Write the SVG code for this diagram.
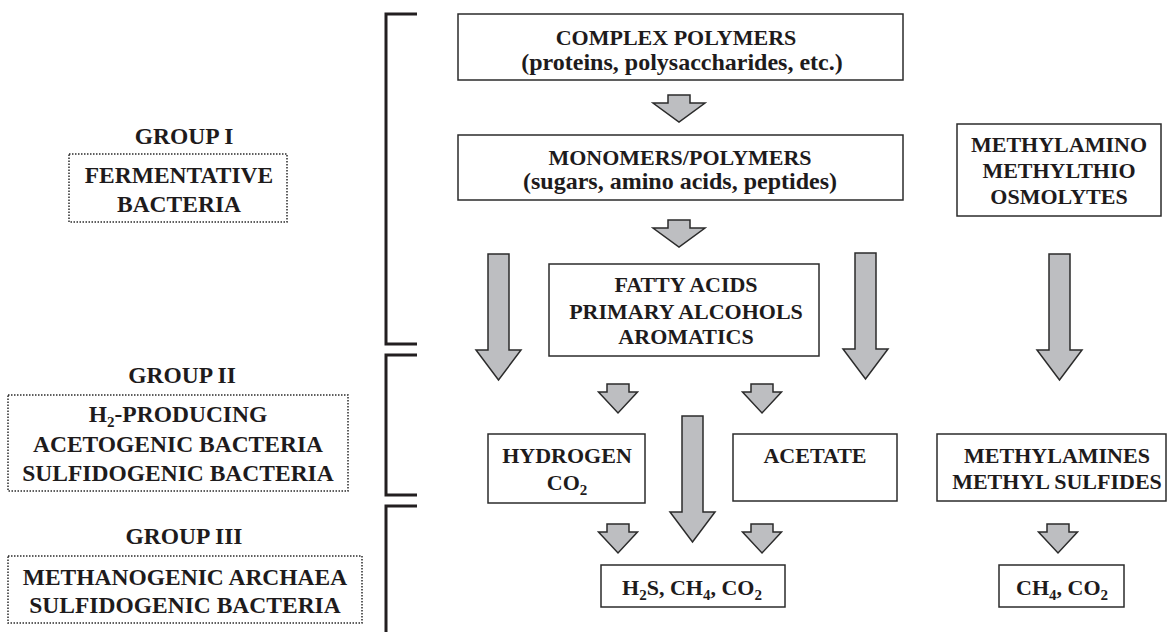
<svg xmlns="http://www.w3.org/2000/svg" width="1168" height="632" viewBox="0 0 1168 632">
<style>
text{font-family:"Liberation Serif","Times New Roman",serif;font-weight:bold;fill:#1e1b1c;text-anchor:middle}
.lbl{font-size:23.5px}
.cap{font-size:22px}
.low{font-size:24px}
.sub{font-size:15px}
.box{fill:#fff;stroke:#2b2b2b;stroke-width:1.5}
.dot{fill:#fff;stroke:#2b2b2b;stroke-width:1.5;stroke-dasharray:1.5 1.5}
.br{fill:none;stroke:#231f20;stroke-width:3}
.arr{fill:#bdbec1;stroke:#2b2b2b;stroke-width:1.5;stroke-linejoin:miter}
</style>
<defs>
<polygon id="sa" points="-11,0 11,0 11,8 26,8 0,27 -26,8 -11,8"/>
<polygon id="sb" points="-11,0 11,0 11,8 19.5,8 0,29 -19.5,8 -11,8"/>
<polygon id="ba" points="-10.5,0 10.5,0 10.5,96 22.5,96 0,126 -22.5,96 -10.5,96"/>
</defs>

<g id="brackets">
<path class="br" d="M417,14 H386 V344 H417"/>
<path class="br" d="M417,355 H386 V495 H417"/>
<path class="br" d="M417,506 H386 V632"/>
</g>

<g id="group1">
<text class="lbl" x="184" y="144">GROUP I</text>
<rect class="dot" x="69" y="154" width="218" height="68"/>
<text class="lbl" x="179" y="183">FERMENTATIVE</text>
<text class="lbl" x="179" y="212">BACTERIA</text>
</g>

<g id="group2">
<text class="lbl" x="182" y="383">GROUP II</text>
<rect class="dot" x="8" y="395" width="340" height="96"/>
<text class="lbl" x="178" y="422">H<tspan class="sub" dy="5">2</tspan><tspan dy="-5">-PRODUCING</tspan></text>
<text class="lbl" x="178" y="452">ACETOGENIC BACTERIA</text>
<text class="lbl" x="178" y="481">SULFIDOGENIC BACTERIA</text>
</g>

<g id="group3">
<text class="lbl" x="184" y="544">GROUP III</text>
<rect class="dot" x="8" y="556" width="354" height="67"/>
<text class="lbl" x="185" y="585">METHANOGENIC ARCHAEA</text>
<text class="lbl" x="185" y="613">SULFIDOGENIC BACTERIA</text>
</g>

<g id="complex">
<rect class="box" x="458" y="14" width="445" height="66"/>
<text class="cap" x="676" y="45">COMPLEX POLYMERS</text>
<text class="low" x="682" y="70">(proteins, polysaccharides, etc.)</text>
</g>

<g id="monomers">
<rect class="box" x="458" y="135" width="445" height="65"/>
<text class="cap" x="680" y="165">MONOMERS/POLYMERS</text>
<text class="low" x="680" y="189">(sugars, amino acids, peptides)</text>
</g>

<g id="methylamino">
<rect class="box" x="957" y="124" width="204" height="92"/>
<text class="cap" x="1059" y="152">METHYLAMINO</text>
<text class="cap" x="1059" y="178">METHYLTHIO</text>
<text class="cap" x="1059" y="204">OSMOLYTES</text>
</g>

<g id="fatty">
<rect class="box" x="549" y="264" width="270" height="92"/>
<text class="cap" x="686" y="292">FATTY ACIDS</text>
<text class="cap" x="686" y="319">PRIMARY ALCOHOLS</text>
<text class="cap" x="686" y="344">AROMATICS</text>
</g>

<g id="hydrogen">
<rect class="box" x="488" y="434" width="157" height="69"/>
<text class="cap" x="567" y="463">HYDROGEN</text>
<text class="cap" x="567" y="490">CO<tspan class="sub" dy="5">2</tspan></text>
</g>

<g id="acetate">
<rect class="box" x="733" y="434" width="164" height="67"/>
<text class="cap" x="815" y="463">ACETATE</text>
</g>

<g id="methylamines">
<rect class="box" x="937" y="434" width="229" height="67"/>
<text class="cap" x="1057" y="463">METHYLAMINES</text>
<text class="cap" x="1057" y="489">METHYL SULFIDES</text>
</g>

<g id="h2s">
<rect class="box" x="601" y="565" width="184" height="42"/>
<text class="cap" x="692" y="595">H<tspan class="sub" dy="5">2</tspan><tspan dy="-5">S, CH</tspan><tspan class="sub" dy="5">4</tspan><tspan dy="-5">, CO</tspan><tspan class="sub" dy="5">2</tspan></text>
</g>

<g id="ch4">
<rect class="box" x="999" y="565" width="125" height="42"/>
<text class="cap" x="1062" y="595">CH<tspan class="sub" dy="5">4</tspan><tspan dy="-5">, CO</tspan><tspan class="sub" dy="5">2</tspan></text>
</g>

<g id="connectors">
<use href="#sa" class="arr" x="679" y="95"/>
<use href="#sa" class="arr" x="679" y="220"/>
<use href="#ba" class="arr" x="498.5" y="254"/>
<use href="#ba" class="arr" x="865.5" y="253"/>
<use href="#ba" class="arr" x="1059.5" y="254"/>
<use href="#sb" class="arr" x="618" y="384"/>
<use href="#sb" class="arr" x="762" y="384"/>
<use href="#ba" class="arr" x="692.5" y="416"/>
<use href="#sb" class="arr" x="618" y="524"/>
<use href="#sb" class="arr" x="762" y="524"/>
<use href="#sb" class="arr" x="1058" y="524"/>
</g>
</svg>
